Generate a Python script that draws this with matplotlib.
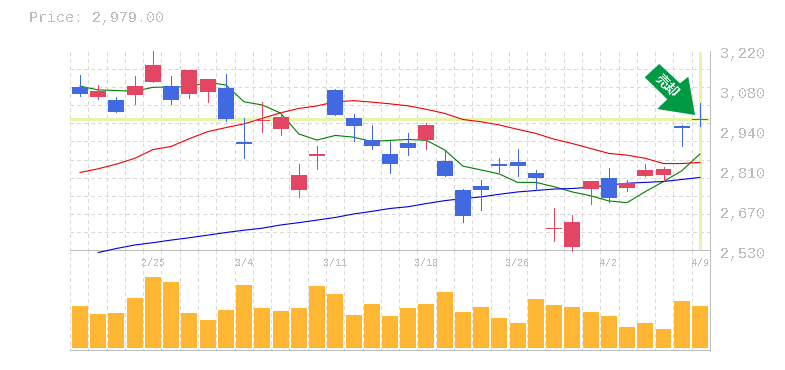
import numpy as np
import matplotlib
matplotlib.use("Agg")
import matplotlib.pyplot as plt
from matplotlib.patches import Polygon

plt.rcParams["text.antialiased"] = False
plt.rcParams["font.family"] = ["Liberation Mono", "Noto Sans CJK JP", "DejaVu Sans"]

# -------------------------
# data
# -------------------------
opens = [3094, 3059, 3049, 3066, 3111, 3097, 3070, 3077, 3090, 2904, 2977, 2949, 2739, 2856,
         3084, 2987, 2911, 2863, 2901, 2911, 2839, 2739, 2752, 2828, 2835, 2797, 2604, 2542,
         2742, 2780, 2745, 2787, 2790, 2959, 2983]
closes = [3070, 3080, 3008, 3097, 3170, 3049, 3152, 3121, 2983, 2897, 2981, 2990, 2790, 2863,
          2997, 2959, 2890, 2828, 2883, 2963, 2787, 2649, 2739, 2821, 2821, 2780, 2607, 2628,
          2770, 2711, 2763, 2807, 2811, 2952, 2980]
highs = [3135, 3101, 3059, 3132, 3218, 3132, 3152, 3121, 3139, 2987, 3042, 3008, 2828, 2890,
         3087, 3001, 2963, 2908, 2935, 2970, 2873, 2742, 2773, 2849, 2880, 2808, 2676, 2652,
         2770, 2814, 2773, 2828, 2818, 2963, 3039]
lows = [3063, 3052, 3008, 3035, 3111, 3035, 3056, 3042, 2977, 2849, 2939, 2928, 2714, 2811,
        2997, 2908, 2880, 2797, 2859, 2880, 2787, 2628, 2670, 2800, 2787, 2737, 2563, 2528,
        2690, 2699, 2735, 2787, 2770, 2890, 2959]

ma_short = [3097, 3084, 3082, 3079, 3093, 3094, 3095, 3110, 3101, 3043, 3032, 3004, 2932, 2911,
            2927, 2921, 2906, 2910, 2913, 2910, 2877, 2821, 2808, 2794, 2765, 2765, 2750, 2732,
            2719, 2701, 2695, 2733, 2768, 2805, 2863]
ma_mid = [2799, 2812, 2828, 2848, 2878, 2889, 2916, 2940, 2954, 2967, 2986, 3005, 3020, 3029,
          3043, 3047, 3042, 3036, 3029, 3017, 3003, 2982, 2974, 2963, 2948, 2934, 2914, 2899,
          2882, 2865, 2859, 2848, 2830, 2830, 2834]
# starts one day later than the other two
ma_long = [2523, 2537, 2549, 2557, 2566, 2574, 2583, 2592, 2600, 2607, 2618, 2626, 2635, 2644,
           2656, 2665, 2675, 2681, 2692, 2702, 2709, 2715, 2724, 2732, 2737, 2742, 2744, 2748,
           2756, 2762, 2765, 2768, 2775, 2782]

volume = [126, 102, 105, 150, 213, 198, 105, 84, 114, 189, 120, 111, 120, 186, 162, 99, 132, 96,
          120, 132, 168, 108, 123, 90, 75, 147, 129, 123, 108, 96, 63, 75, 57, 141, 126]

price_ticks = [2530, 2670, 2810, 2940, 3080, 3220]
price_tick_pos = [2530, 2668, 2806, 2944, 3082, 3220]
date_idx = [4, 9, 14, 19, 24, 29, 34]
date_labels = ["2/25", "3/4", "3/11", "3/18", "3/26", "4/2", "4/9"]
last_line = 2983

# -------------------------
# layout
# -------------------------
W, H = 785, 370
grey = "#bdbdbd"
red = "#e34562"
blue = "#4169e1"
pale = "#e6f4aa"
one_px = 0.72

fig = plt.figure(figsize=(W / 100, H / 100), dpi=100)
ax = fig.add_axes([70 / W, 1 - 250.5 / H, 640 / W, 200 / H])
vax = fig.add_axes([70 / W, 1 - 350.5 / H, 640 / W, 100 / H])

x = np.arange(len(opens))
xlim = (-0.548, 34.55)

for a in (ax, vax):
    a.set_xlim(*xlim)
    a.set_xticks([])
    a.set_yticks([])
    a.patch.set_alpha(0)
    for s in a.spines.values():
        s.set_visible(False)
    a.vlines(np.linspace(xlim[0], xlim[1], 36), 0, 1, transform=a.get_xaxis_transform(),
             color="#d9d9d9", lw=one_px, linestyles=(0, (3, 3)), antialiased=False, zorder=0)

ax.set_ylim(2530, 3220)
vax.set_ylim(-7.5, 292.5)

ax.hlines(np.linspace(2530, 3220, 12)[1:], *xlim, color="#d9d9d9", lw=one_px,
          linestyles=(0, (3, 3)), antialiased=False, zorder=0)

# current price cross
ax.axhline(last_line, color=pale, lw=2.16, zorder=1, antialiased=False)
ax.vlines(x[-1], 2536, 3216, color=pale, lw=2.16, zorder=1, antialiased=False)

# moving averages: aliased diagonals came out two pixels wide, so these stay smooth
ax.plot(x, ma_short, color="#008000", lw=0.8, zorder=3)
ax.plot(x, ma_mid, color="#f00000", lw=0.8, zorder=3)
ax.plot(x[1:], ma_long, color="#0000e6", lw=0.8, zorder=3, clip_on=False)

# candles
colors = [blue if c < o else red for o, c in zip(opens, closes)]
ax.vlines(x, lows, highs, color=colors, lw=one_px, zorder=4, antialiased=False, clip_on=False)
body = np.abs(np.array(closes) - np.array(opens))
ax.bar(x, np.maximum(body, 3.5), bottom=np.minimum(opens, closes), width=0.877,
       color=colors, lw=0, zorder=4, antialiased=False)

# volume
vax.bar(x, volume, width=0.877, color="#ffb733", lw=0, zorder=2, antialiased=False)

# frame lines
ax.axhline(2530, color=grey, lw=one_px, zorder=2, clip_on=False, antialiased=False)
vax.axhline(-6, color=grey, lw=one_px, zorder=2, clip_on=False, antialiased=False)
for a in (ax, vax):
    a.axvline(xlim[1], color=grey, lw=one_px, zorder=2, clip_on=False, antialiased=False)

# texts
for pos, t in zip(price_tick_pos, price_ticks):
    ax.annotate(f"{t:,}", (1, pos), xycoords=ax.get_yaxis_transform(), xytext=(10, -3.5),
                textcoords="offset pixels", fontsize=10.8, color=grey, va="center", ha="left",
                annotation_clip=False)
for i, lab in zip(date_idx, date_labels):
    vax.annotate(lab, (i, 1), xycoords=vax.get_xaxis_transform(), xytext=(0, -12),
                 textcoords="offset pixels", fontsize=7.2, color=grey, va="center", ha="center")
fig.text(29 / W, 1 - 18 / H, f"Price: {2979:,.2f}", fontsize=10.8, color=grey, va="center", ha="left")

# arrow
arrow = [(644.7, 77.3), (659.3, 64), (680, 83.3), (688.3, 76.7), (695, 115), (657.3, 109), (667.3, 99.3)]
fig.add_artist(Polygon([(px / W, 1 - py / H) for px, py in arrow], closed=True, facecolor="#009944",
                       edgecolor="none", transform=fig.transFigure))
fig.text(667 / W, 1 - 86 / H, "売却", fontsize=9.5, color="white", rotation=-45, fontweight="bold",
         va="center", ha="center", rotation_mode="anchor", family=["Noto Sans CJK JP", "DejaVu Sans"])

fig.savefig("out.png", dpi=100, facecolor="white")
